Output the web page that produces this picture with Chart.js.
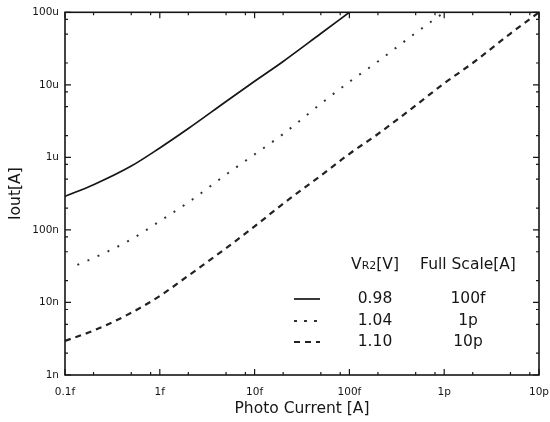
<!DOCTYPE html>
<html>
<head>
<meta charset="utf-8">
<script src="https://cdn.jsdelivr.net/npm/chart.js@4/dist/chart.umd.min.js"></script>
<style>
  html, body { margin: 0; padding: 0; background: #fff; }
  #wrap { width: 550px; height: 422px; }
</style>
</head>
<body>
<div id="wrap"><canvas id="c" width="550" height="422"></canvas></div>
<script>
// ---- data ----
const photoCurrent098 = [1e-16, 2e-16, 5e-16, 1e-15, 2e-15, 5e-15, 1e-14, 2e-14, 5e-14, 1e-13];
const iout098 = [2.9e-7, 4.2e-7, 7.6e-7, 1.35e-6, 2.5e-6, 5.9e-6, 1.12e-5, 2.1e-5, 5.1e-5, 1e-4];

const photoCurrent104 = [1.35e-16, 2e-16, 5e-16, 1e-15, 2e-15, 5e-15, 1e-14, 2e-14, 5e-14, 1e-13, 2e-13, 5e-13, 1e-12];
const iout104 = [3.3e-8, 4.1e-8, 7.4e-8, 1.32e-7, 2.4e-7, 5.8e-7, 1.1e-6, 2.1e-6, 5.5e-6, 1.1e-5, 2.1e-5, 5.2e-5, 1e-4];

const photoCurrent110 = [1e-16, 2e-16, 5e-16, 1e-15, 2e-15, 5e-15, 1e-14, 2e-14, 5e-14, 1e-13, 2e-13, 5e-13, 1e-12, 2e-12, 5e-12, 1e-11];
const iout110 = [2.95e-9, 4.1e-9, 7.2e-9, 1.23e-8, 2.34e-8, 5.6e-8, 1.12e-7, 2.3e-7, 5.6e-7, 1.12e-6, 2.1e-6, 5.2e-6, 1.05e-5, 2.0e-5, 5.1e-5, 1e-4];

const xTickValues = [1e-16, 1e-15, 1e-14, 1e-13, 1e-12, 1e-11];
const xTickLabels = ['0.1f', '1f', '10f', '100f', '1p', '10p'];
const yTickValues = [1e-9, 1e-8, 1e-7, 1e-6, 1e-5, 1e-4];
const yTickLabels = ['1n', '10n', '100n', '1u', '10u', '100u'];
const minorFactors = [2, 5, 8];

const legendVoltages = ['0.98', '1.04', '1.10'];
const legendFullScale = ['100f', '1p', '10p'];
// --------------------------------------

const FONT = 'DejaVu Sans';
const INK = '#161616';

function pts(xs, ys) { return xs.map((x, i) => ({ x: x, y: ys[i] })); }

const styles = [
  { color: INK, width: 1.7, dash: [], legendDash: [] },
  { color: '#333', width: 2, dash: [2, 9], legendDash: [3, 7] },
  { color: '#222', width: 2.2, dash: [6, 5], legendDash: [6, 5] }
];

const framePlugin = {
  id: 'frame',
  afterDatasetsDraw(chart) {
    const { ctx, chartArea: a, scales } = chart;
    const xs = scales.x, ys = scales.y;
    ctx.save();
    ctx.strokeStyle = INK;
    ctx.lineWidth = 1.6;
    ctx.setLineDash([]);
    ctx.strokeRect(a.left, a.top, a.right - a.left, a.bottom - a.top);
    ctx.lineWidth = 1.2;
    const major = 6, minor = 3;
    xTickValues.forEach((v, i) => {
      const px = xs.getPixelForValue(v);
      ctx.beginPath();
      ctx.moveTo(px, a.bottom); ctx.lineTo(px, a.bottom - major);
      ctx.moveTo(px, a.top); ctx.lineTo(px, a.top + major);
      ctx.stroke();
      if (i < xTickValues.length - 1) {
        minorFactors.forEach(f => {
          const mx = xs.getPixelForValue(v * f);
          ctx.beginPath();
          ctx.moveTo(mx, a.bottom); ctx.lineTo(mx, a.bottom - minor);
          ctx.moveTo(mx, a.top); ctx.lineTo(mx, a.top + minor);
          ctx.stroke();
        });
      }
    });
    yTickValues.forEach((v, i) => {
      const py = ys.getPixelForValue(v);
      ctx.beginPath();
      ctx.moveTo(a.left, py); ctx.lineTo(a.left + major, py);
      ctx.moveTo(a.right, py); ctx.lineTo(a.right - major, py);
      ctx.stroke();
      if (i < yTickValues.length - 1) {
        minorFactors.forEach(f => {
          const my = ys.getPixelForValue(v * f);
          ctx.beginPath();
          ctx.moveTo(a.left, my); ctx.lineTo(a.left + minor, my);
          ctx.moveTo(a.right, my); ctx.lineTo(a.right - minor, my);
          ctx.stroke();
        });
      }
    });

    // legend table
    const colV = 375, colF = 468;
    const headY = 263;
    const rowY = [299, 321, 342];
    ctx.fillStyle = INK;
    ctx.textBaseline = 'alphabetic';
    const big = '15.5px "' + FONT + '"';
    const small = '11px "' + FONT + '"';
    const base = headY + 6;
    ctx.font = big; const wV = ctx.measureText('V').width; const wB = ctx.measureText('[V]').width;
    ctx.font = small; const wR = ctx.measureText('R2').width;
    let sx = colV - (wV + wR + wB) / 2;
    ctx.textAlign = 'left';
    ctx.font = big; ctx.fillText('V', sx, base);
    ctx.font = small; ctx.fillText('R2', sx + wV, base);
    ctx.font = big; ctx.fillText('[V]', sx + wV + wR, base);
    ctx.textAlign = 'center';
    ctx.fillText('Full Scale[A]', colF, base);
    ctx.textBaseline = 'middle';
    rowY.forEach((y, i) => {
      ctx.fillStyle = INK;
      ctx.font = big;
      ctx.fillText(legendVoltages[i], colV, y);
      ctx.fillText(legendFullScale[i], colF, y);
      const s = styles[i];
      ctx.strokeStyle = s.color;
      ctx.lineWidth = s.width;
      ctx.setLineDash(s.legendDash);
      ctx.beginPath();
      ctx.moveTo(294, y); ctx.lineTo(320, y);
      ctx.stroke();
    });
    ctx.restore();
  }
};

const data = {
  datasets: [
    { label: '0.98', data: pts(photoCurrent098, iout098) },
    { label: '1.04', data: pts(photoCurrent104, iout104) },
    { label: '1.10', data: pts(photoCurrent110, iout110) }
  ].map((d, i) => Object.assign(d, {
    borderColor: styles[i].color,
    borderWidth: styles[i].width,
    borderDash: styles[i].dash,
    pointRadius: 0,
    fill: false,
    cubicInterpolationMode: 'monotone'
  }))
};

new Chart(document.getElementById('c'), {
  type: 'line',
  data: data,
  plugins: [framePlugin],
  options: {
    responsive: false,
    animation: false,
    devicePixelRatio: 1,
    layout: { padding: { top: 12, right: 0, left: 0, bottom: 0 } },
    plugins: { legend: { display: false }, tooltip: { enabled: false } },
    scales: {
      x: {
        type: 'logarithmic',
        min: 1e-16, max: 1e-11,
        afterBuildTicks: ax => { ax.ticks = xTickValues.map(v => ({ value: v, major: true })); },
        afterFit: ax => { ax.height = 47; ax.paddingRight = 11; ax.paddingLeft = 0; },
        ticks: {
          autoSkip: false, maxRotation: 0, padding: 11,
          color: INK, font: { family: FONT, size: 10.5 },
          callback: (v) => { const i = xTickValues.findIndex(t => Math.abs(Math.log10(t) - Math.log10(v)) < 1e-6); return i >= 0 ? xTickLabels[i] : ''; }
        },
        grid: { display: false, drawTicks: false },
        border: { display: false },
        title: { display: true, text: 'Photo Current [A]', color: INK, font: { family: FONT, size: 15.5 }, padding: { top: 0, bottom: 4 } }
      },
      y: {
        type: 'logarithmic',
        min: 1e-9, max: 1e-4,
        afterBuildTicks: ax => { ax.ticks = yTickValues.map(v => ({ value: v, major: true })); },
        afterFit: ax => { ax.width = 65; },
        ticks: {
          autoSkip: false, padding: 6,
          color: INK, font: { family: FONT, size: 10.5 },
          callback: (v) => { const i = yTickValues.findIndex(t => Math.abs(Math.log10(t) - Math.log10(v)) < 1e-6); return i >= 0 ? yTickLabels[i] : ''; }
        },
        grid: { display: false, drawTicks: false },
        border: { display: false },
        title: { display: true, text: 'Iout[A]', color: INK, font: { family: FONT, size: 15.5 }, padding: { top: 7, bottom: 0 } }
      }
    }
  }
});
</script>
</body>
</html>
